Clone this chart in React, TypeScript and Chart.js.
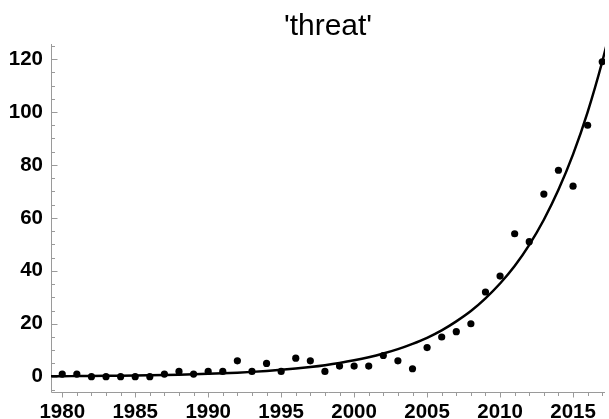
import React, { useEffect, useRef } from 'react';
import { Chart, registerables } from 'chart.js';

Chart.register(...registerables);

const chartTitle = "'threat'";

const years = [
  1980, 1981, 1982, 1983, 1984, 1985, 1986, 1987, 1988, 1989,
  1990, 1991, 1992, 1993, 1994, 1995, 1996, 1997, 1998, 1999,
  2000, 2001, 2002, 2003, 2004, 2005, 2006, 2007, 2008, 2009,
  2010, 2011, 2012, 2013, 2014, 2015, 2016, 2017,
];
const counts = [
  1, 1, 0, 0, 0, 0, 0, 1, 2, 1,
  2, 2, 6, 2, 5, 2, 7, 6, 2, 4,
  4, 4, 8, 6, 3, 11, 15, 17, 20, 32,
  38, 54, 51, 69, 78, 72, 95, 119,
];

// fitted trend curve
const fitYears = [
  1979, 1980, 1981, 1982, 1983, 1984, 1985, 1986, 1987, 1988, 1989,
  1990, 1991, 1992, 1993, 1994, 1995, 1996, 1997, 1998, 1999,
  2000, 2001, 2002, 2003, 2004, 2005, 2006, 2007, 2008, 2009,
  2010, 2011, 2012, 2013, 2014, 2015, 2016, 2017, 2018,
];
const fitValues = [
  0.16, 0.19, 0.23, 0.27, 0.32, 0.38, 0.45, 0.54, 0.64, 0.76, 0.91,
  1.08, 1.29, 1.53, 1.82, 2.17, 2.59, 3.08, 3.67, 4.36, 5.19,
  6.18, 7.35, 8.75, 10.4, 12.4, 14.7, 17.5, 20.9, 24.8, 29.6,
  35.2, 41.8, 49.8, 59.3, 70.6, 84.0, 100, 119, 141,
];

const xTickValues = [1980, 1985, 1990, 1995, 2000, 2005, 2010, 2015];
const yTickValues = [0, 20, 40, 60, 80, 100, 120];

const AXIS_COLOR = '#9a9a9a';
const FONT = "'Liberation Sans', Arial, sans-serif";

const frameTicks = {
  id: 'frameTicks',
  beforeDatasetsDraw(chart: any) {
    const { ctx, chartArea, scales } = chart;
    const xs = scales.x;
    const ys = scales.y;
    const left = Math.round(chartArea.left) + 0.5;
    const bottom = Math.round(chartArea.bottom) + 0.5;
    ctx.save();
    ctx.strokeStyle = AXIS_COLOR;
    ctx.lineWidth = 1;
    ctx.beginPath();
    ctx.moveTo(left, chartArea.top);
    ctx.lineTo(left, bottom);
    ctx.lineTo(chartArea.right, bottom);
    for (let v = -5; v <= 125; v += 5) {
      const py = Math.round(ys.getPixelForValue(v)) + 0.5;
      if (py < chartArea.top || py > chartArea.bottom) continue;
      const len = yTickValues.includes(v) ? 6 : 3.5;
      ctx.moveTo(left, py);
      ctx.lineTo(left + len, py);
    }
    for (let yr = 1979; yr <= 2018; yr++) {
      const px = Math.round(xs.getPixelForValue(yr)) + 0.5;
      if (px < chartArea.left || px > chartArea.right) continue;
      const len = xTickValues.includes(yr) ? 5 : 3.5;
      ctx.moveTo(px, bottom);
      ctx.lineTo(px, bottom + len);
    }
    ctx.stroke();
    ctx.restore();
  },
};

export default function App() {
  const canvasRef = useRef<HTMLCanvasElement | null>(null);

  useEffect(() => {
    const canvas = canvasRef.current;
    if (!canvas) return;
    const tickFont = { family: FONT, size: 20.5, weight: 'bold' as const };
    const chart = new Chart(canvas, {
      type: 'scatter',
      data: {
        datasets: [
          {
            label: 'fit',
            data: fitYears.map((x, i) => ({ x, y: fitValues[i] })),
            showLine: true,
            borderColor: '#000000',
            borderWidth: 2.5,
            pointRadius: 0,
            cubicInterpolationMode: 'monotone',
            fill: false,
            order: 2,
          } as any,
          {
            label: 'threat',
            data: years.map((x, i) => ({ x, y: counts[i] })),
            showLine: false,
            pointRadius: 3.6,
            pointBackgroundColor: '#000000',
            pointBorderWidth: 0,
            backgroundColor: '#000000',
            order: 1,
          } as any,
        ],
      },
      options: {
        animation: false,
        responsive: false,
        events: [],
        layout: { padding: { left: 0, right: 0, top: 0, bottom: 0 } },
        plugins: {
          legend: { display: false },
          tooltip: { enabled: false },
          title: {
            display: true,
            text: chartTitle,
            color: '#000000',
            fullSize: false,
            font: { family: FONT, size: 30, weight: 'normal', lineHeight: 1.15 },
            padding: { top: 9.5, bottom: 0 },
          } as any,
        },
        scales: {
          x: {
            type: 'linear',
            min: 1979.23,
            max: 2017.19,
            grid: { display: false, drawTicks: false },
            border: { display: false },
            afterBuildTicks: (scale: any) => {
              scale.ticks = xTickValues.map((v) => ({ value: v }));
            },
            afterFit: (scale: any) => {
              scale.height = 27.3;
            },
            ticks: {
              color: '#000000',
              font: tickFont,
              padding: 8,
              maxRotation: 0,
              autoSkip: false,
              callback: (v: any) => String(v),
            },
          },
          y: {
            type: 'linear',
            min: -5.67,
            max: 125.7,
            grid: { display: false, drawTicks: false },
            border: { display: false },
            afterBuildTicks: (scale: any) => {
              scale.ticks = yTickValues.map((v) => ({ value: v }));
            },
            afterFit: (scale: any) => {
              scale.width = 51;
            },
            ticks: {
              color: '#000000',
              font: tickFont,
              padding: 8,
              autoSkip: false,
              callback: (v: any) => String(v),
            },
          },
        },
      },
      plugins: [frameTicks],
    });
    return () => chart.destroy();
  }, []);

  return (
    <div style={{ position: 'absolute', left: 0, top: 0, width: 609, height: 419 }}>
      <canvas ref={canvasRef} width={609} height={419} style={{ display: 'block' }} />
    </div>
  );
}
